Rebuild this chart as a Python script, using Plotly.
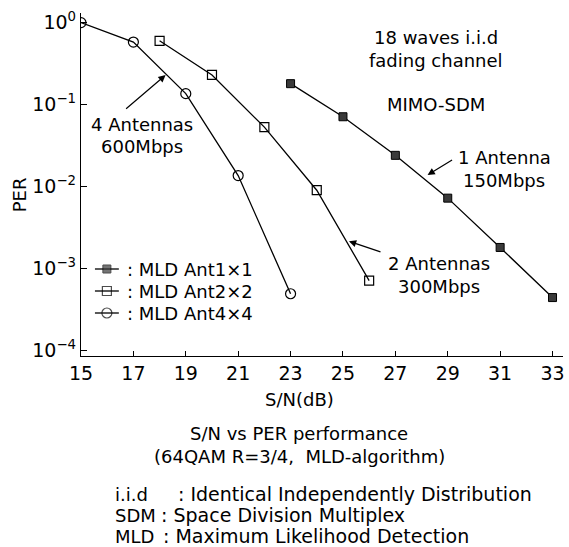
import plotly.graph_objects as go

# ---- data ----
snr_1ant = [23, 25, 27, 29, 31, 33]
per_1ant = [0.18, 0.071, 0.024, 0.0072, 0.0018, 0.00044]
snr_2ant = [18, 20, 22, 24, 26]
per_2ant = [0.60, 0.23, 0.053, 0.0090, 0.00071]
snr_4ant = [15, 17, 19, 21, 23]
per_4ant = [1.0, 0.58, 0.136, 0.0136, 0.00049]
names = [": MLD Ant1\u00d71", ": MLD Ant2\u00d72", ": MLD Ant4\u00d74"]
xticks = [15, 17, 19, 21, 23, 25, 27, 29, 31, 33]
yticks = [1, 0.1, 0.01, 0.001, 0.0001]
yticktext = ["10<sup>0</sup>", "10<sup>\u22121</sup>", "10<sup>\u22122</sup>",
             "10<sup>\u22123</sup>", "10<sup>\u22124</sup>"]

FONT = "DejaVu Sans"
W, H = 569, 547
L, R, T, B = 81, 565, 13, 356

def pp(x, y):
    return (x - L) / (R - L), (B - y) / (B - T)

styles = [
    dict(symbol="square", size=8, color="#3a3a3a", line=dict(color="black", width=1)),
    dict(symbol="square-open", size=9, color="black", line=dict(color="black", width=1.2)),
    dict(symbol="circle-open", size=10, color="black", line=dict(color="black", width=1.2)),
]

fig = go.Figure()
for xs, ys, nm, st in zip([snr_1ant, snr_2ant, snr_4ant], [per_1ant, per_2ant, per_4ant],
                          names, styles):
    fig.add_trace(go.Scatter(x=xs, y=ys, name=nm, mode="lines+markers", showlegend=False,
                             line=dict(color="black", width=1.3), marker=st))

anns = []
def txt(x, y, s, size=18, xanchor="center", angle=0):
    xp, yp = pp(x, y)
    anns.append(dict(x=xp, y=yp, xref="paper", yref="paper", text=s, showarrow=False,
                     xanchor=xanchor, yanchor="middle", textangle=angle,
                     font=dict(family=FONT, size=size, color="black")))

# manual legend drawn on a hidden pixel-scaled overlay axis
leg_rows = [269, 291, 313]
for nm, st, ry in zip(names, styles, leg_rows):
    fig.add_trace(go.Scatter(x=[95, 107, 119], y=[ry, ry, ry], xaxis="x2", yaxis="y2",
                             mode="lines+markers", showlegend=False, hoverinfo="skip",
                             line=dict(color="black", width=1.3),
                             marker=dict(symbol=st["symbol"], color=st["color"],
                                         size=[0, st["size"], 0], line=st["line"])))
    txt(125, ry, nm, size=18, xanchor="left")

txt(437, 37, "18 waves i.i.d")
txt(437, 61, "fading channel")
txt(437, 105, "MIMO-SDM")
txt(506, 158, "1 Antenna")
txt(506, 180, "150Mbps")
txt(142, 124, "4 Antennas")
txt(142, 146, "600Mbps")
txt(440, 263, "2 Antennas")
txt(440, 286, "300Mbps")
txt(20, 195, "PER", angle=-90)
txt(300, 400, "S/N(dB)")
txt(300, 434, "S/N vs PER performance")
txt(300, 456, "(64QAM R=3/4,  MLD-algorithm)")

glossary_abbr = ["i.i.d", "SDM", "MLD"]
glossary_text = [": Identical Independently Distribution",
                 ": Space Division Multiplex",
                 ": Maximum Likelihood Detection"]
glossary_colon_x = [176, 159, 161]
glossary_y = [494, 515, 536]
for a, t, cx, gy in zip(glossary_abbr, glossary_text, glossary_colon_x, glossary_y):
    txt(113, gy, a, size=18, xanchor="left")
    txt(cx, gy, t, size=19, xanchor="left")

# arrows
def arrow(x, logy, ax, ay):
    anns.append(dict(x=x, y=logy, xref="x", yref="y", ax=ax, ay=ay, text="",
                     showarrow=True, arrowhead=2, arrowsize=1.2, arrowwidth=1.2,
                     arrowcolor="black"))

arrow(18.23, -0.64, -41, 35)
arrow(28.23, -1.86, 26, -16)
arrow(25.23, -2.67, 33, 11)

fig.update_layout(
    width=W, height=H,
    margin=dict(l=L, r=W - R, t=T, b=H - B),
    paper_bgcolor="white", plot_bgcolor="white",
    font=dict(family=FONT, size=18, color="black"),
    showlegend=False,
    annotations=anns,
    xaxis=dict(range=[15, 33.4], tickvals=xticks, showgrid=False, zeroline=False,
               showline=True, linecolor="black", linewidth=1.3,
               ticks="inside", ticklen=5, tickcolor="black",
               tickfont=dict(family=FONT, size=19)),
    yaxis=dict(type="log", range=[-4.07, 0.118], tickvals=yticks, ticktext=yticktext,
               showgrid=False, zeroline=False, showline=True, linecolor="black",
               linewidth=1.3, ticks="inside", ticklen=6, tickcolor="black",
               tickfont=dict(family=FONT, size=19)),
    xaxis2=dict(overlaying="x", range=[L, R], visible=False, fixedrange=True),
    yaxis2=dict(overlaying="y", range=[B, T], visible=False, fixedrange=True),
)

fig.write_html("out.html")
